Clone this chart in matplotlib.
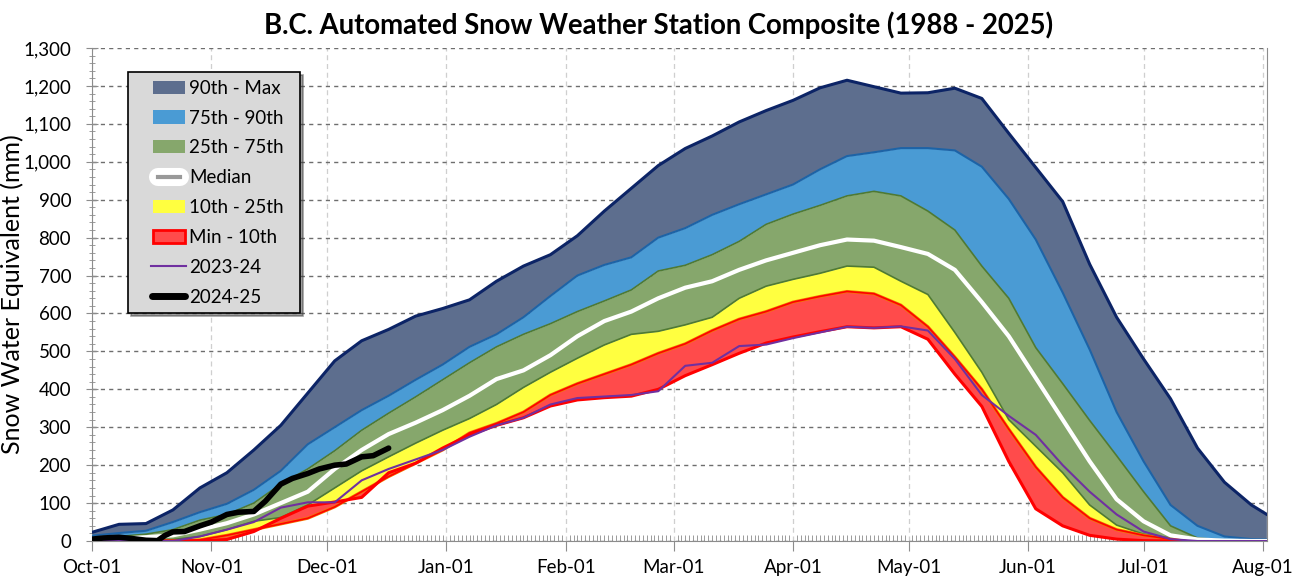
import matplotlib
matplotlib.use("Agg")
from matplotlib import pyplot as plt
from matplotlib.patches import Patch, Rectangle
from matplotlib.lines import Line2D
from matplotlib.legend_handler import HandlerPatch, HandlerLine2D
from matplotlib.ticker import MultipleLocator, FuncFormatter
import matplotlib.patheffects as pe
import numpy as np

plt.rcParams['font.family'] = ['Lato', 'DejaVu Sans']

# days since Oct-01
day = [0, 7, 14, 21, 28, 35, 42, 49, 56, 63, 70, 77, 84, 91, 98, 105, 112, 119,
       126, 133, 140, 147, 154, 161, 168, 175, 182, 189, 196, 203, 210, 217, 224,
       231, 238, 245, 252, 259, 266, 273, 280, 287, 294, 301, 305]

p_max = [23, 44, 46, 82, 140, 180, 240, 305, 390, 475, 528, 558, 593, 613, 636,
         685, 725, 755, 805, 870, 930, 990, 1035, 1068, 1105, 1135, 1162, 1195,
         1215, 1198, 1181, 1182, 1194, 1167, 1075, 985, 895, 730, 590, 480, 375,
         245, 155, 95, 70]
p90 = [14, 21, 27, 50, 76, 98, 135, 185, 255, 300, 345, 383, 425, 465, 512, 545,
       590, 646, 700, 728, 748, 800, 825, 860, 888, 914, 940, 980, 1015, 1025,
       1036, 1036, 1030, 987, 902, 795, 655, 505, 340, 210, 95, 40, 12, 5, 4]
p75 = [7, 12, 18, 30, 55, 70, 100, 150, 190, 238, 292, 337, 380, 425, 470, 512,
       545, 573, 605, 633, 662, 712, 727, 755, 790, 835, 862, 885, 910, 922, 910,
       870, 820, 725, 640, 510, 415, 318, 225, 130, 40, 8, 2, 1, 1]
p50 = [3, 6, 10, 15, 30, 47, 70, 100, 130, 190, 240, 282, 312, 345, 383, 427,
       450, 490, 540, 580, 605, 640, 668, 685, 715, 740, 760, 780, 795, 792, 775,
       757, 715, 630, 540, 430, 320, 210, 110, 52, 15, 4, 1, 0, 0]
p25 = [0, 0, 1, 4, 12, 30, 52, 62, 95, 140, 185, 222, 258, 292, 323, 360, 405,
       445, 482, 517, 545, 553, 570, 590, 640, 672, 690, 706, 725, 722, 685, 650,
       550, 445, 320, 250, 180, 95, 42, 18, 8, 2, 0, 0, 0]
p10 = [0, 0, 0, 0, 3, 15, 30, 45, 60, 90, 130, 170, 205, 240, 285, 310, 340,
       385, 415, 440, 465, 495, 520, 555, 585, 605, 630, 645, 658, 652, 622, 565,
       485, 400, 295, 195, 115, 60, 30, 15, 5, 1, 0, 0, 0]
p_min = [0, 0, 0, 0, 0, 4, 25, 60, 92, 103, 115, 180, 205, 245, 280, 305, 325,
         356, 372, 378, 382, 400, 436, 465, 495, 522, 538, 552, 565, 562, 565,
         532, 440, 355, 210, 85, 40, 15, 5, 1, 0, 0, 0, 0, 0]
y2324 = [0, 0, 0, 0, 12, 30, 50, 88, 102, 102, 160, 190, 215, 240, 275, 305,
         325, 360, 377, 381, 385, 395, 462, 470, 514, 518, 535, 550, 565, 562,
         566, 555, 480, 385, 330, 280, 200, 130, 70, 25, 5, 0, 0, 0, 0]

day2425 = [0, 3, 7, 10, 14, 17, 19, 21, 24, 28, 31, 35, 38, 42, 45, 49, 52, 56,
           59, 63, 66, 70, 73, 77]
y2425 = [5, 8, 10, 7, 2, 1, 15, 24, 25, 40, 50, 70, 76, 78, 105, 150, 165, 178,
         190, 200, 203, 222, 225, 245]

month_day = [0, 31, 61, 92, 123, 151, 182, 212, 243, 273, 304]
month_lbl = ['Oct-01', 'Nov-01', 'Dec-01', 'Jan-01', 'Feb-01', 'Mar-01',
             'Apr-01', 'May-01', 'Jun-01', 'Jul-01', 'Aug-01']

c_max = '#5d6e8e'
c_90 = '#4a9bd4'
c_75 = '#86a76c'
c_10 = '#ffff40'
c_min = '#ff4b4b'


# legend handles drawn in the right part of the handle box, like the original
def rect_func(legend, orig_handle, xdescent, ydescent, width, height, fontsize):
    return Rectangle((-xdescent + 0.35 * width, -ydescent), 0.63 * width, height)


class OffsetLine(HandlerLine2D):
    def __init__(self, f0, f1, **kw):
        super().__init__(**kw)
        self.f0, self.f1 = f0, f1

    def get_xdata(self, legend, xdescent, ydescent, width, height, fontsize):
        x = np.array([-xdescent + self.f0 * width, -xdescent + self.f1 * width])
        return x, x


fig = plt.figure(figsize=(13.02, 5.84), dpi=100)
ax = fig.add_axes([0.0707, 0.0736, 0.9023, 0.8442])

shadow = [pe.SimplePatchShadow(offset=(2, -3), shadow_rgbFace='#000000', alpha=0.12), pe.Normal()]
ax.fill_between(day, p90, p_max, color=c_max, lw=0, zorder=2, path_effects=shadow)
ax.fill_between(day, p75, p90, color=c_90, lw=0, zorder=2)
ax.fill_between(day, p25, p75, color=c_75, lw=0, zorder=2)
ax.fill_between(day, p10, p25, color=c_10, lw=0, zorder=2)
ax.fill_between(day, p_min, p10, color=c_min, lw=0, zorder=2)

ax.plot(day, p_max, color='#0c2466', lw=2.2, zorder=3)
ax.plot(day, p90, color='#1d63a6', lw=1.5, zorder=3)
ax.plot(day, p75, color='#4f7a33', lw=1.2, zorder=3)
ax.plot(day, p25, color='#4f7a33', lw=1.2, zorder=3)
ax.plot(day, p10, color='#f27a00', lw=2.2, zorder=3)
ax.plot(day, p10, color='#ff0000', lw=1.2, zorder=3)
ax.plot(day, p_min, color='#ff0000', lw=2.2, zorder=3)
ax.plot(day, p50, color='white', lw=3, zorder=4)
ax.plot(day, y2324, color='#7030a0', lw=1.5, zorder=5)
ax.plot(day2425, y2425, color='black', lw=4, zorder=6, solid_capstyle='round')

ax.set_xlim(0, 305)
ax.set_ylim(0, 1300)
ax.set_xticks(month_day)
ax.set_xticklabels(month_lbl)
ax.xaxis.set_minor_locator(MultipleLocator(1))
ax.yaxis.set_major_locator(MultipleLocator(100))
ax.yaxis.set_minor_locator(MultipleLocator(20))
ax.yaxis.set_major_formatter(FuncFormatter(lambda v, p: f'{int(v):,}'))

ax.grid(axis='y', which='major', color='#6e6e6e', ls=(0, (3, 3)), lw=1, zorder=1)
ax.grid(axis='x', which='major', color='#cfcfcf', ls=(0, (4, 3)), lw=0.9, zorder=1)
ax.set_axisbelow(True)

for s in ['left', 'bottom', 'right']:
    ax.spines[s].set_color('#8c8c8c')
ax.spines['top'].set_visible(False)
ax.tick_params(axis='y', which='major', direction='inout', length=9, color='#8c8c8c',
               labelsize=13.5, pad=10.5)
ax.tick_params(axis='y', which='minor', direction='inout', length=5, color='#8c8c8c')
ax.tick_params(axis='x', which='major', direction='out', length=7, color='#8c8c8c', labelsize=13.5, pad=6)
ax.tick_params(axis='x', which='minor', direction='in', length=4, color='#8c8c8c')

ax.set_ylabel('Snow Water Equivalent (mm)', fontsize=18)
ax.yaxis.set_label_coords(-0.058, 0.5)
ax.set_title('B.C. Automated Snow Weather Station Composite (1988 - 2025)',
             fontsize=19.8, fontweight='bold', pad=10, x=0.4826)

handles = [
    Patch(facecolor=c_max, edgecolor='none'),
    Patch(facecolor=c_90, edgecolor='none'),
    Patch(facecolor=c_75, edgecolor='none'),
    Line2D([], [], color='#999999', lw=3,
           path_effects=[pe.Stroke(linewidth=13, foreground='white', capstyle='round'), pe.Normal()]),
    Patch(facecolor=c_10, edgecolor='none'),
    Patch(facecolor=c_min, edgecolor='#ff0000', lw=2),
    Line2D([], [], color='#7030a0', lw=1.5),
    Line2D([], [], color='black', lw=5, solid_capstyle='round'),
]
labels = ['90th - Max', '75th - 90th', '25th - 75th', 'Median', '10th - 25th',
          'Min - 10th', '2023-24', '2024-25']
hmap = {Patch: HandlerPatch(patch_func=rect_func)}
hmap[handles[3]] = OffsetLine(0.45, 0.87)
hmap[handles[6]] = OffsetLine(0.3, 0.99)
hmap[handles[7]] = OffsetLine(0.32, 0.97)
leg = ax.legend(handles, labels, loc='upper left',
                bbox_to_anchor=(0.0306, 0.464, 0.1464, 0.487), mode='expand',
                borderaxespad=0, fontsize=13.5, labelspacing=0.685, handlelength=2.7,
                handletextpad=0.15, fancybox=False, shadow=True, framealpha=1,
                borderpad=0.4, handler_map=hmap)
leg.get_frame().set_facecolor('#d9d9d9')
leg.get_frame().set_edgecolor('black')
leg.get_frame().set_linewidth(1.2)
leg.set_zorder(10)

plt.savefig('out.png', dpi=100)
